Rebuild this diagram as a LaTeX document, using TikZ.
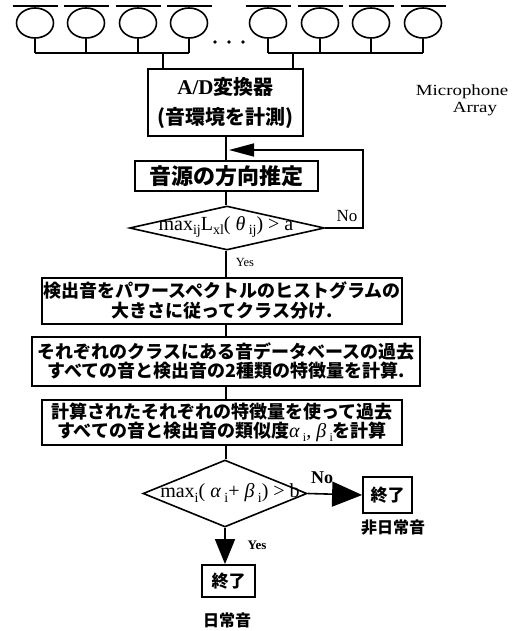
\documentclass[tikz,border=0pt]{standalone}
\usepackage{fontspec}
\setmainfont{Liberation Serif}
\newfontfamily\jp{Noto Sans CJK JP}
\usetikzlibrary{shapes.geometric,arrows.meta}
\newcommand\sbx[1]{\raisebox{-0.45ex}{\fontsize{14}{14}\selectfont #1}}
\newcommand\sbg[1]{\raisebox{-0.4ex}{\fontsize{12}{12}\selectfont #1}}
\tikzset{
  ln/.style={line width=1.6pt},
  box/.style={draw, line width=1.8pt, inner sep=0pt, align=center,
    font=\jp\bfseries\fontsize{18}{19}\selectfont},
  endbox/.style={draw, line width=1.8pt, inner sep=0pt,
    font=\jp\bfseries\fontsize{17}{17}\selectfont},
  dia/.style={draw, diamond, line width=1.6pt, inner sep=0pt},
  mic/.style={draw, ellipse, line width=1.6pt, minimum width=37pt, minimum height=30pt, inner sep=0pt},
  lbl/.style={inner sep=0pt, font=\fontsize{17}{17}\selectfont},
  jlbl/.style={inner sep=0pt, font=\jp\bfseries\fontsize{16}{16}\selectfont},
  bigtip/.style={-{Triangle[length=30pt,width=25pt]}},
}
\begin{document}
\begin{tikzpicture}[x=1pt,y=-1pt]
\useasboundingbox (0,0) rectangle (513,631);
% microphones
\coordinate (hl) at (0,53);
\foreach \i/\x in {1/35,2/86,3/138,4/189,5/268,6/320,7/371,8/423} {
  \node[mic] (m\i) at (\x,23) {};
  \draw[ln] ([xshift=-22.5pt,yshift=1pt]m\i.north) -- ([xshift=22.5pt,yshift=1pt]m\i.north);
  \draw[ln] (m\i.south) -- (m\i.south |- hl);
}
\draw[ln] (m1.south |- hl) -- (m4.south |- hl);
\draw[ln] (m5.south |- hl) -- (m8.south |- hl);
\foreach \x in {215,229,243} \fill (\x,42) circle (1.9pt);
\node[lbl, font=\fontsize{15.5}{15.5}\selectfont, xscale=1.22] (mic1) at (462,92) {Microphone};
\node[lbl, font=\fontsize{15.5}{15.5}\selectfont, xscale=1.22] (mic2) at (475,109) {Array};

% A/D box
\node[box, minimum width=155pt, minimum height=67pt, font=\jp\bfseries\fontsize{20}{30}\selectfont] (b1) at (225.5,102.5)
  {{\rmfamily\bfseries\fontsize{21}{21}\selectfont A/D}変換器\\(音環境を計測)};
\coordinate (s1) at (163,53);
\coordinate (s2) at (293,53);
\draw[ln] (s1) -- (s1 |- b1.north);
\draw[ln] (s2) -- (s2 |- b1.north);

\coordinate (ax) at (226,0);
% direction estimation
\node[box, minimum width=183pt, minimum height=30pt, font=\jp\bfseries\fontsize{22}{22}\selectfont] (b2) at (226.5,176) {音源の方向推定};
\draw[ln] (b1.south -| ax) -- (b2.north -| ax);

% diamond 1
\node[dia, minimum width=195pt, minimum height=44pt] (d1) at (227,228) {};
\node[lbl, font=\fontsize{20}{20}\selectfont] (d1t) at (226,227) {max\sbx{ij}L\sbx{xl}( \textit{θ}\,\sbx{ij}) > a};
\draw[ln] (b2.south -| ax) -- (d1.north -| ax);
\coordinate (lc1) at (363,228);
\coordinate (lc2) at (363,150);
\coordinate (jn) at (229,150);
\draw[ln, -{Triangle[length=25pt,width=13pt]}] (d1.east) -- (lc1) -- (lc2) -- (jn);
\node[lbl] (no1) at (347,216) {No};
\node[inner sep=0pt, font=\fontsize{12.5}{12.5}\selectfont] (yes1) at (245,262) {Yes};

% box 3
\node[box, minimum width=360pt, minimum height=46pt, font=\jp\bfseries\fontsize{18}{20}\selectfont] (b3) at (222,301)
  {検出音をパワースペクトルのヒストグラムの\\大きさに従ってクラス分け.};
\draw[ln] (d1.south -| ax) -- (b3.north -| ax);

% box 4
\node[box, minimum width=388pt, minimum height=49pt] (b4) at (226,361.5)
  {それぞれのクラスにある音データベースの過去\\すべての音と検出音の2種類の特徴量を計算.};
\draw[ln] (b3.south -| ax) -- (b4.north -| ax);

% box 5
\node[box, minimum width=360pt, minimum height=45pt] (b5) at (222,422.5)
  {計算されたそれぞれの特徴量を使って過去\\すべての音と検出音の類似度{\rmfamily\mdseries\fontsize{20}{19}\selectfont\itshape α\,\sbg{\upshape i}, β\,\sbg{\upshape i}}を計算};
\draw[ln] (b4.south -| ax) -- (b5.north -| ax);

% diamond 2
\node[dia, minimum width=164pt, minimum height=67pt] (d2) at (225,493.5) {};
\node[lbl, font=\fontsize{20}{20}\selectfont] (d2t) at (230,493) {max\sbx{i}( \textit{α}\,\sbx{i}+ \textit{β}\,\sbx{i}) > b};
\draw[ln] (b5.south -| ax) -- (d2.north -| ax);

% end boxes
\node[endbox, minimum width=49pt, minimum height=36pt] (e1) at (387.5,495) {終了};
\node[endbox, minimum width=53pt, minimum height=32pt] (e2) at (228.5,581) {終了};
\draw[ln, bigtip] (d2.east) -- (e1.west);
\draw[ln, -{Triangle[length=25pt,width=20pt]}] (d2.south) -- (d2.south |- e2.north);
\node[lbl, font=\bfseries\fontsize{18}{18}\selectfont] (no2) at (322,478) {No};
\node[inner sep=0pt, font=\bfseries\fontsize{13}{13}\selectfont] (yes2) at (257,545) {Yes};
\node[jlbl] (l1) at (393,528) {非日常音};
\node[jlbl] (l2) at (227,620) {日常音};
\end{tikzpicture}
\end{document}
